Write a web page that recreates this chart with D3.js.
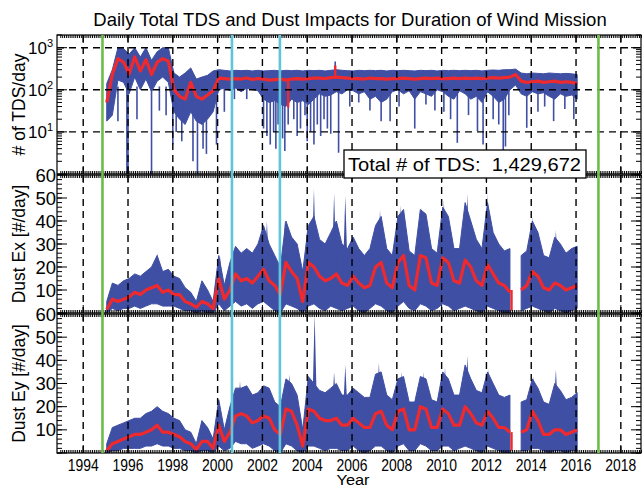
<!DOCTYPE html>
<meta charset="utf-8">

<!-- Load d3.js -->
<script src="https://d3js.org/d3.v7.min.js"></script>

<style>
  body { margin: 0; background: #fff; }
  text { font-family: "Liberation Sans", Arial, Helvetica, sans-serif; fill: #000; }
</style>

<svg width="642" height="487"></svg>

<script>

// sample times: one value per quarter year, starting 1995.05
var tStart = 1995.05, tStep = 0.25;

// daily TDS counts (per quarter: high / low envelope and smoothed mean)
var tdsMean = [50,230,550,450,240,600,280,520,230,450,550,480,100,70,60,150,70,60,75,95,
  190,185,180,185,180,190,175,185,180,170,175,180,170,180,185,180,185,190,190,185,
  195,200,195,190,185,185,180,190,185,185,180,185,185,190,185,180,185,190,185,190,
  185,185,190,185,190,185,190,185,190,195,190,195,200,230,160,150,155,160,150,155,
  160,150,155,150,140];
var tdsHi = [140,300,1000,950,700,1000,600,1000,500,800,1000,1000,250,200,250,330,180,200,220,280,
  300,290,280,290,285,290,280,290,280,285,290,280,290,285,290,280,290,285,290,280,
  290,300,290,285,280,290,285,290,285,290,280,290,285,290,285,280,290,285,290,280,
  290,285,290,285,290,285,290,280,290,295,290,300,300,310,250,240,250,245,240,250,
  245,240,245,240,230];
var tdsLo = [18,25,170,150,80,200,100,180,90,160,200,150,30,20,15,30,18,15,20,30,
  100,110,95,110,90,110,100,95,60,50,55,45,40,60,50,55,45,60,80,70,
  75,90,80,100,95,80,90,60,70,50,60,90,100,80,95,60,90,80,70,100,
  90,70,60,95,80,60,70,50,90,70,50,60,100,130,80,70,90,80,85,70,
  60,80,70,75,60];
// single-day excursions of the TDS count [year, count]
var tdsDrops = [[1995.55,18],[1995.95,1],[1996.0,1],[1996.4,20],[1997.05,1],[1997.4,32],[1997.7,25],
  [1998.0,5],[1998.15,10],[1998.4,6],[1998.9,2],[1999.1,1],[1999.35,4],[1999.5,3],[1999.95,5],
  [2000.3,30],[2000.75,60],[2001.3,60],[2002.05,12],[2002.2,8],[2002.35,5],[2002.5,10],[2002.6,4],
  [2002.7,15],[2002.9,7],[2003.0,3.5],[2003.15,15],[2003.4,20],[2003.55,8],[2003.7,12],[2003.9,25],
  [2004.0,6],[2004.15,10],[2004.3,5],[2004.45,15],[2004.6,8],[2004.75,20],[2004.9,12],[2005.05,9],
  [2005.25,470],[2005.4,3.2],[2005.9,40],[2006.3,50],[2006.8,32],[2007.3,18],[2007.7,18],[2008.1,40],
  [2008.8,12],[2009.3,45],[2009.7,32],[2010.1,30],[2010.4,20],[2010.7,5.5],[2011.2,25],[2011.6,10.5],
  [2011.85,5],[2012.3,20],[2012.55,15],[2012.75,3.2],[2012.85,4.5],[2013.0,25],[2013.8,12.5],
  [2014.3,30],[2014.6,40],[2015.0,18],[2015.5,35],[2015.9,20]];
var tdsMeanSpikes = [[2003.15,38],[2005.25,380]];

// dust impacts on the Ex antenna
var exMean = [1.5,6,5,6,7,9,8,10,11,12,9,10,8,8,5,4,2.5,5,4,2,
  15,6,10,17,14,15,13,16,19,14,12,8,22,18,15,5,22,20,16,14,
  15,17,13,12,16,13,11,12,20,22,13,11,22,25,12,10,25,24,13,12,
  24,22,14,13,23,20,14,12,21,17,13,12,9,null,10,12,18,16,11,10,
  13,12,10,11,12];
var exHi = [5,13,12,14,15,17,16,18,20,25,18,19,16,15,11,9,5,14,10,5,
  25,12,22,29,26,28,26,30,38,30,25,20,40,33,30,18,38,42,32,30,
  35,40,30,28,33,28,25,28,38,42,28,25,42,45,27,25,45,43,28,26,
  46,42,28,28,48,40,32,28,48,35,30,27,28,null,25,27,40,35,25,24,
  33,30,26,28,29];
var exLo = [0,2,1,2,2,3,2,3,4,4,3,3,3,2,1,1,0,1,0,0,
  4,1,3,5,3,4,2,4,5,3,1,0,4,3,2,0,3,4,2,1,
  3,2,1,2,3,1,0,2,4,3,1,0,3,5,2,1,4,3,1,2,
  4,3,1,2,3,2,1,0,3,2,1,0,0,null,1,2,3,2,1,0,
  2,1,0,1,2];
var exPeaks = [[1997.3,26],[2000.1,25],[2002.2,40],[2003.0,40],[2004.0,38],[2004.3,54],[2005.2,52],
  [2005.7,51],[2007.25,45],[2008.15,47],[2009.1,46],[2010.1,49],[2011.15,52],[2012.05,52],
  [2014.05,42],[2015.1,36]];
var exMeanSpikes = [[2013.12,1]];

// dust impacts on the Ey antenna
var eyMean = [1,4,5,6,7,8,8,9,10,12,9,9,8,7,5,4,1.5,5,5,2,
  12,5,9,16,17,16,13,14,16,15,10,8,19,18,12,3,19,18,15,14,
  14,15,12,12,15,13,11,11,17,18,12,10,18,19,10,10,20,19,11,11,
  19,17,12,12,20,17,13,12,18,15,11,11,9,null,9,10,18,14,8,8,
  10,10,8,9,10];
var eyHi = [4,11,12,13,14,15,15,17,18,20,18,17,15,14,10,9,4,14,11,6,
  23,10,20,28,28,29,25,26,29,28,22,20,32,30,25,10,33,30,27,26,
  28,30,25,25,28,26,24,24,34,35,25,23,32,33,22,22,33,32,23,22,
  35,32,25,25,38,32,27,26,35,30,25,24,25,null,22,23,32,28,22,21,
  30,27,23,24,26];
var eyLo = [0,1,1,2,2,2,2,3,3,4,3,3,2,2,1,1,0,1,1,0,
  3,1,2,5,4,4,2,3,4,3,1,0,4,3,1,0,3,3,2,1,
  2,2,1,1,3,1,0,1,3,3,1,0,3,4,1,1,4,3,1,1,
  3,3,1,2,3,2,1,0,3,2,1,0,0,null,1,1,2,2,1,0,
  1,1,0,1,1];
var eyPeaks = [[2001.0,31],[2003.2,34],[2004.05,34],[2004.33,60],[2005.2,35],[2005.7,38],[2007.2,39],
  [2008.2,35],[2009.2,35],[2010.15,37],[2011.15,42],[2012.1,36],[2014.1,33],[2015.1,36]];
var eyMeanSpikes = [[2013.12,1]];

// event markers
var greenLines = [1994.86, 2017.0];
var cyanLines = [2000.64, 2002.78];
var yearTicks = [1994, 1996, 1998, 2000, 2002, 2004, 2006, 2008, 2010, 2012, 2014, 2016, 2018];
var totalLabel = "Total # of TDS:  1,429,672";

var blue = "#3f4fa3", red = "#ee2a2e";

var svg = d3.select("svg");
var x = d3.scaleLinear().domain([1992.83, 2018.9]).range([57, 641]);
var left = 57, right = 641;

function rows(hi, lo, mean) {
  return hi.map(function(h, i) {
    return {t: tStart + i * tStep, hi: h, lo: lo[i], mean: mean[i]};
  });
}

var panels = [
  {top: 35, bottom: 174, log: true, title: "# of TDS/day", base: 120, meanBase: 185,
   data: rows(tdsHi, tdsLo, tdsMean), drops: tdsDrops, peaks: [], spikes: tdsMeanSpikes},
  {top: 175, bottom: 313, log: false, title: "Dust Ex [#/day]", base: 15, meanBase: 10,
   data: rows(exHi, exLo, exMean), drops: [], peaks: exPeaks, spikes: exMeanSpikes},
  {top: 314, bottom: 453, log: false, title: "Dust Ey [#/day]", base: 15, meanBase: 9,
   data: rows(eyHi, eyLo, eyMean), drops: [], peaks: eyPeaks, spikes: eyMeanSpikes}
];

panels.forEach(function(p, k) {
  var y = p.log
    ? d3.scaleLog().domain([1, 2000]).range([p.bottom, p.top])
    : d3.scaleLinear().domain([0, 60]).range([p.bottom, p.top]);

  svg.append("clipPath").attr("id", "clip" + k)
    .append("rect")
      .attr("x", left).attr("y", p.top)
      .attr("width", right - left).attr("height", p.bottom - p.top);

  var g = svg.append("g").attr("clip-path", "url(#clip" + k + ")");

  // blue daily envelope
  g.append("path")
    .datum(p.data)
    .attr("fill", blue)
    .attr("stroke", blue)
    .attr("stroke-width", 1)
    .attr("d", d3.area()
      .defined(function(d) { return d.hi != null; })
      .x(function(d) { return x(d.t); })
      .y0(function(d) { return y(d.lo); })
      .y1(function(d) { return y(d.hi); }));

  // single-day excursions (log panel)
  g.selectAll(".drop")
    .data(p.drops)
    .enter().append("line")
      .attr("x1", function(d) { return x(d[0]); })
      .attr("x2", function(d) { return x(d[0]); })
      .attr("y1", y(p.base))
      .attr("y2", function(d) { return y(d[1]); })
      .attr("stroke", blue)
      .attr("stroke-width", 1.6);

  // single-day peaks (dust panels)
  g.selectAll(".peak")
    .data(p.peaks)
    .enter().append("path")
      .attr("fill", blue)
      .attr("d", function(d) {
        return "M" + (x(d[0]) - 2.5) + "," + y(p.base) + "L" + x(d[0]) + "," + y(d[1]) +
               "L" + (x(d[0]) + 2.5) + "," + y(p.base) + "Z";
      });

  // red smoothed mean
  g.append("path")
    .datum(p.data)
    .attr("fill", "none")
    .attr("stroke", red)
    .attr("stroke-width", 3.2)
    .attr("stroke-linejoin", "round")
    .attr("d", d3.line()
      .defined(function(d) { return d.mean != null; })
      .x(function(d) { return x(d.t); })
      .y(function(d) { return y(d.mean); }));

  g.selectAll(".mspike")
    .data(p.spikes)
    .enter().append("line")
      .attr("x1", function(d) { return x(d[0]); })
      .attr("x2", function(d) { return x(d[0]); })
      .attr("y1", y(p.meanBase))
      .attr("y2", function(d) { return y(d[1]); })
      .attr("stroke", red)
      .attr("stroke-width", 2.4);

  // dashed grid on top of the data
  g.selectAll(".vgrid")
    .data(yearTicks)
    .enter().append("line")
      .attr("x1", function(d) { return x(d); })
      .attr("x2", function(d) { return x(d); })
      .attr("y1", p.top).attr("y2", p.bottom)
      .attr("stroke", "#000").attr("stroke-width", 1.4)
      .attr("stroke-dasharray", "7,5");
  if (p.log) {
    g.selectAll(".hgrid")
      .data([10, 100, 1000])
      .enter().append("line")
        .attr("x1", left).attr("x2", right)
        .attr("y1", function(d) { return y(d); })
        .attr("y2", function(d) { return y(d); })
        .attr("stroke", "#000").attr("stroke-width", 1.4)
        .attr("stroke-dasharray", "7,5");
  }

  // y ticks on both sides
  var majors, minors;
  if (p.log) {
    majors = [1, 10, 100, 1000];
    minors = [];
    [1, 10, 100, 1000].forEach(function(b) {
      d3.range(2, 10).forEach(function(m) { if (b * m <= 2000) minors.push(b * m); });
    });
  } else {
    majors = d3.range(0, 61, 10);
    minors = d3.range(0, 61, 2);
  }
  var ta = svg.append("g").attr("stroke", "#000").attr("stroke-width", 1);
  minors.forEach(function(v) {
    ta.append("line").attr("x1", left).attr("x2", left + 5).attr("y1", y(v)).attr("y2", y(v));
    ta.append("line").attr("x1", right - 5).attr("x2", right).attr("y1", y(v)).attr("y2", y(v));
  });
  majors.forEach(function(v) {
    ta.append("line").attr("x1", left).attr("x2", left + 10).attr("y1", y(v)).attr("y2", y(v));
    ta.append("line").attr("x1", right - 10).attr("x2", right).attr("y1", y(v)).attr("y2", y(v));
  });

  // x ticks on top and bottom edges: monthly minor, 2-year major
  d3.range(1993, 2019, 1 / 12).forEach(function(t) {
    ta.append("line").attr("x1", x(t)).attr("x2", x(t)).attr("y1", p.top).attr("y2", p.top + 3);
    ta.append("line").attr("x1", x(t)).attr("x2", x(t)).attr("y1", p.bottom - 3).attr("y2", p.bottom);
  });
  yearTicks.forEach(function(t) {
    ta.append("line").attr("x1", x(t)).attr("x2", x(t)).attr("y1", p.top).attr("y2", p.top + 8);
    ta.append("line").attr("x1", x(t)).attr("x2", x(t)).attr("y1", p.bottom - 8).attr("y2", p.bottom);
  });

  // frame
  svg.append("rect")
    .attr("x", left).attr("y", p.top)
    .attr("width", right - left).attr("height", p.bottom - p.top)
    .attr("fill", "none").attr("stroke", "#000").attr("stroke-width", 1.2);

  // y tick labels
  if (p.log) {
    [10, 100, 1000].forEach(function(v, i) {
      svg.append("text")
        .attr("x", 28).attr("y", y(v) + 6)
        .style("font-size", "17px")
        .text("10");
      svg.append("text")
        .attr("x", 47).attr("y", y(v) - 1)
        .style("font-size", "11px")
        .text(String(i + 1));
    });
  } else {
    d3.range(10, 61, 10).forEach(function(v) {
      svg.append("text")
        .attr("x", 56).attr("y", y(v) + 6.6)
        .attr("text-anchor", "end")
        .style("font-size", "18.5px")
        .text(v);
    });
  }

  // axis title
  svg.append("text")
    .attr("transform", "translate(25," + ((p.top + p.bottom) / 2) + ") rotate(-90)")
    .attr("text-anchor", "middle")
    .style("font-size", "17.5px")
    .text(p.title);
});

// mission event lines across all panels
svg.selectAll(".green")
  .data(greenLines)
  .enter().append("line")
    .attr("x1", function(d) { return x(d); })
    .attr("x2", function(d) { return x(d); })
    .attr("y1", 35).attr("y2", 453)
    .attr("stroke", "#6cbd4b").attr("stroke-width", 2.6);
svg.selectAll(".cyan")
  .data(cyanLines)
  .enter().append("line")
    .attr("x1", function(d) { return x(d); })
    .attr("x2", function(d) { return x(d); })
    .attr("y1", 35).attr("y2", 453)
    .attr("stroke", "#5ec6da").attr("stroke-width", 2.6);

// x tick labels
svg.selectAll(".xlab")
  .data(yearTicks)
  .enter().append("text")
    .attr("x", function(d) { return x(d); })
    .attr("y", 470.5)
    .attr("text-anchor", "middle")
    .attr("textLength", 31).attr("lengthAdjust", "spacingAndGlyphs")
    .style("font-size", "17px")
    .text(function(d) { return d; });

svg.append("text")
  .attr("x", 353).attr("y", 484.5)
  .attr("text-anchor", "middle")
  .attr("textLength", 33).attr("lengthAdjust", "spacingAndGlyphs")
  .style("font-size", "15.5px")
  .text("Year");

// title
svg.append("text")
  .attr("x", 350).attr("y", 26)
  .attr("text-anchor", "middle")
  .style("font-size", "18.5px")
  .text("Daily Total TDS and Dust Impacts for Duration of Wind Mission");

// total box
svg.append("rect")
  .attr("x", 344).attr("y", 150)
  .attr("width", 242).attr("height", 28)
  .attr("fill", "#fff").attr("stroke", "#000").attr("stroke-width", 1.3);
svg.append("text")
  .attr("x", 348).attr("y", 171)
  .attr("xml:space", "preserve")
  .attr("textLength", 233).attr("lengthAdjust", "spacingAndGlyphs")
  .style("font-size", "18.5px")
  .text(totalLabel);

</script>
